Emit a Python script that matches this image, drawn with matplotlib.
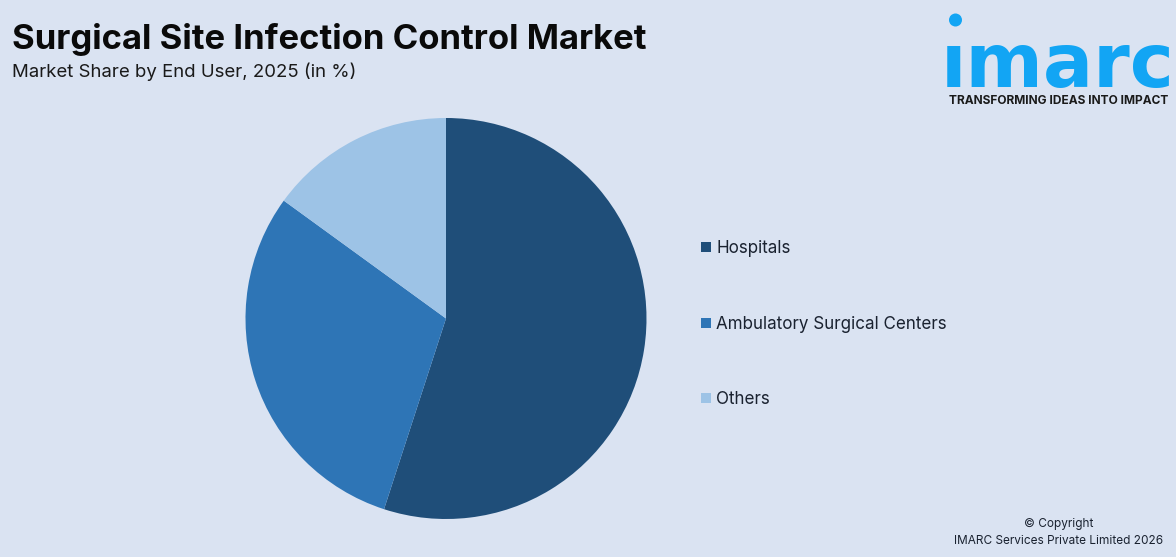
import matplotlib
matplotlib.use("Agg")
import matplotlib.pyplot as plt
from matplotlib.patches import Rectangle, Ellipse

W, H = 1176, 557
BG = "#DAE3F2"
categories = ["Hospitals", "Ambulatory Surgical Centers", "Others"]
values = [55, 30, 15]
colors = ["#1F4E79", "#2E75B6", "#9DC3E6"]
legend_y = [247, 323, 398]

plt.rcParams["font.family"] = ["Inter", "DejaVu Sans"]
fig = plt.figure(figsize=(W / 100, H / 100), dpi=100, facecolor=BG)

# pie
R = 200.5
cx, cy = 446, 318.5
ax = fig.add_axes([(cx - R) / W, 1 - (cy + R) / H, 2 * R / W, 2 * R / H])
ax.pie(values, colors=colors, startangle=90, counterclock=False, radius=1,
       wedgeprops=dict(linewidth=0))
ax.set_xlim(-1, 1)
ax.set_ylim(-1, 1)
ax.set_aspect("equal")

# overlay in pixel coordinates
ov = fig.add_axes([0, 0, 1, 1], facecolor="none")
ov.set_xlim(0, W)
ov.set_ylim(H, 0)
ov.axis("off")

ov.text(12, 39, "Surgical Site Infection Control Market", fontsize=24.95, fontweight="bold",
        color="#0A0A0A", va="center", ha="left")
ov.text(12, 72, "Market Share by End User, 2025 (in %)", fontsize=13.4,
        color="#1A1A1A", va="center", ha="left")

for cat, col, y in zip(categories, colors, legend_y):
    ov.add_patch(Rectangle((701, y - 5), 10, 10, facecolor=col, edgecolor="none"))
    ov.text(716, y + 1.5, cat, fontsize=12.25, color="#1A2230", va="center", ha="left")

ov.text(1059, 524.5, "© Copyright", fontsize=8.5, color="#1A2230", va="center", ha="center")
ov.text(1163, 541, "IMARC Services Private Limited 2026", fontsize=8.5, color="#1A2230",
        va="center", ha="right")

# logo
LOGO = "#12A5F4"
ov.add_patch(Ellipse((955.5, 20), 13, 13, facecolor=LOGO, edgecolor="none"))
ov.text(1058, 87.5, "\u0131marc", fontsize=53.5, fontweight="bold", family="DejaVu Sans", color=LOGO,
        va="baseline", ha="center")
ov.text(1058.5, 100.5, "TRANSFORMING IDEAS INTO IMPACT", fontsize=8.6, fontweight="bold",
        color="#1A1A1A", va="center", ha="center")

fig.savefig("out.png", dpi=100, facecolor=BG)
